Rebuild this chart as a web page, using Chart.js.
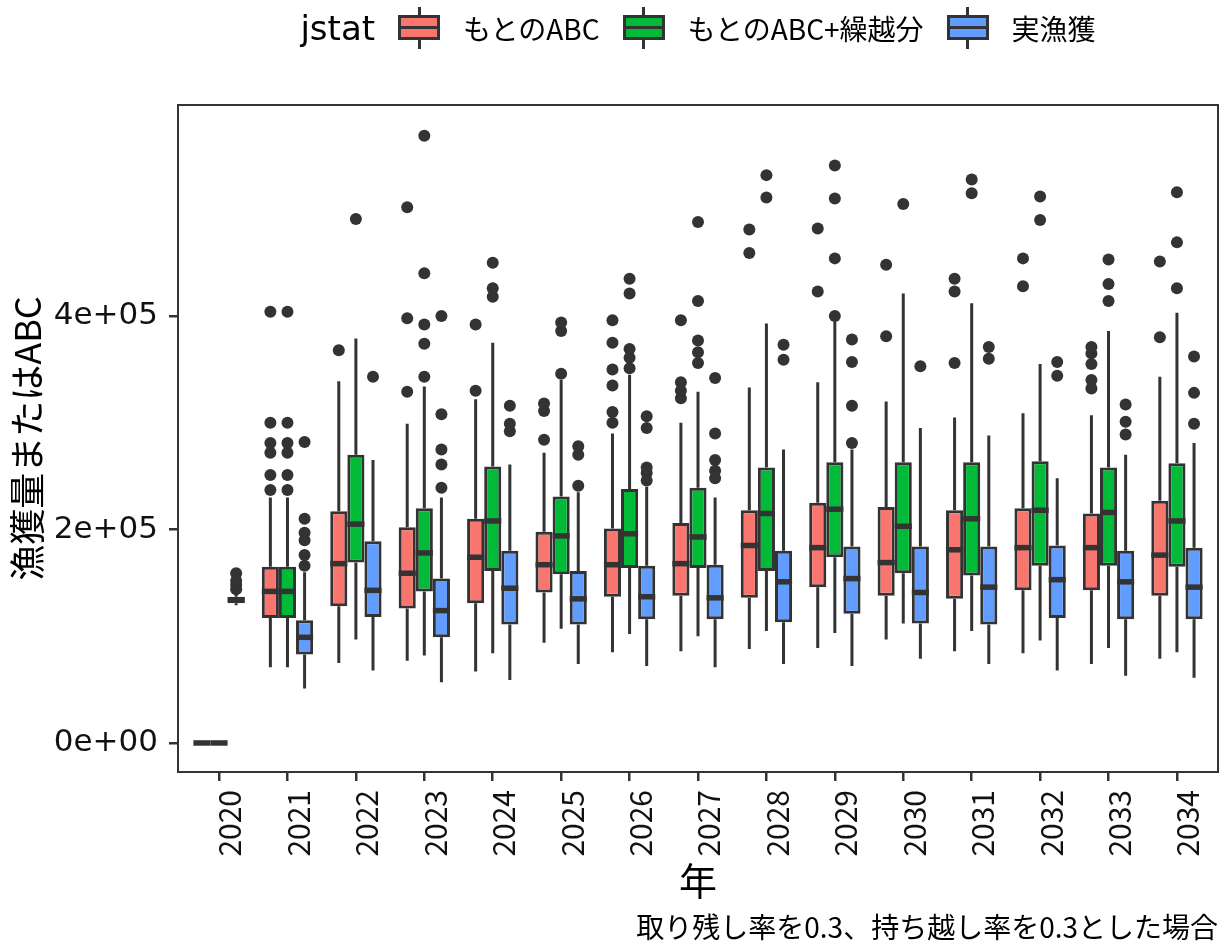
<!DOCTYPE html>
<html>
<head>
<meta charset="utf-8">
<script src="https://cdn.jsdelivr.net/npm/chart.js@4.4.1/dist/chart.umd.min.js"></script>
<style>
  html, body { margin: 0; padding: 0; background: #fff; }
  #wrap { position: relative; width: 1225px; height: 945px; }
  #legend { position: absolute; top: 0; left: 178px; width: 1040px; height: 56px;
    display: flex; align-items: center; justify-content: center;
    font-family: 'Noto Sans CJK JP'; font-size: 28px; color: #000; }
  #legend .ttl { font-family: 'DejaVu Sans'; font-size: 34px; margin-right: 23px; }
  #legend .key { position: relative; width: 42px; height: 42px; margin-right: 23px; }
  #legend .wh { position: absolute; left: 19.5px; top: 0; width: 3px; height: 42px; background: #333; }
  #legend .bx { position: absolute; left: 0; top: 8px; width: 42px; height: 25px; box-sizing: border-box; border: 3px solid #333; }
  #legend .md { position: absolute; left: 0; top: 19px; width: 42px; height: 3px; background: #333; }
  #legend .lab { margin-right: 23px; }
  #legend .lab:last-child { margin-right: 0; }
  #caption { position: absolute; right: 7px; top: 906px; font-family: 'Noto Sans CJK JP';
    font-size: 28px; line-height: 40px; color: #000; white-space: nowrap; }
</style>
</head>
<body>
<div id="wrap">
  <canvas id="chart" width="1225" height="945"></canvas>
  <div id="legend"></div>
  <div id="caption">取り残し率を0.3、持ち越し率を0.3とした場合</div>
</div>
<script>
const years = [2020, 2021, 2022, 2023, 2024, 2025, 2026, 2027, 2028, 2029, 2030, 2031, 2032, 2033, 2034];
const seriesNames = ['もとのABC', 'もとのABC+繰越分', '実漁獲'];
const seriesColors = ['#F8766D', '#00BA38', '#619CFF'];
const yTicks = [0, 200000, 400000];
const yTickLabels = ['0e+00', '2e+05', '4e+05'];

// もとのABC
const abcLo  = [0, 71000, 75000, 77000, 67000, 94000, 85000, 86000, 88000, 89000, 97000, 86000, 84000, 74000, 79000];
const abcQ1  = [0, 117000, 128000, 126000, 131000, 141000, 137000, 138000, 136000, 146000, 138000, 135000, 143000, 143000, 138000];
const abcMed = [0, 142000, 168000, 159000, 174000, 167000, 167000, 168000, 185000, 183000, 169000, 181000, 183000, 183000, 176000];
const abcQ3  = [0, 165000, 217000, 202000, 210000, 198000, 201000, 206000, 218000, 225000, 221000, 218000, 220000, 215000, 227000];
const abcHi  = [0, 230000, 339000, 299000, 322000, 272000, 290000, 300000, 333000, 338000, 320000, 305000, 309000, 307000, 343000];
const abcOut = [[], [237000, 251000, 272000, 281000, 300000, 404000], [368000], [329000, 398000, 502000],
  [330000, 392000], [284000, 311000, 318000], [300000, 310000, 335000, 350000, 375000, 396000],
  [323000, 330000, 338000, 396000], [459000, 481000], [423000, 482000], [381000, 448000],
  [356000, 423000, 435000], [428000, 454000], [332000, 340000, 355000, 365000, 371000], [380000, 451000]];

// もとのABC+繰越分
const carryLo  = [0, 71000, 97000, 82000, 84000, 107000, 102000, 100000, 105000, 103000, 112000, 105000, 96000, 89000, 85000];
const carryQ1  = [0, 117000, 169000, 142000, 161000, 158000, 164000, 164000, 161000, 174000, 159000, 157000, 166000, 166000, 165000];
const carryMed = [0, 142000, 205000, 178000, 208000, 194000, 196000, 193000, 215000, 219000, 203000, 210000, 218000, 216000, 208000];
const carryQ3  = [0, 165000, 270000, 220000, 259000, 231000, 238000, 239000, 258000, 263000, 263000, 263000, 264000, 258000, 262000];
const carryHi  = [0, 230000, 379000, 334000, 375000, 340000, 345000, 329000, 393000, 395000, 421000, 412000, 355000, 386000, 403000];
const carryOut = [[], [237000, 251000, 272000, 281000, 300000, 404000], [491000], [343000, 374000, 392000, 440000, 569000],
  [418000, 426000, 450000], [346000, 386000, 394000], [351000, 361000, 369000, 421000, 435000],
  [356000, 366000, 377000, 414000, 488000], [511000, 532000], [400000, 454000, 510000, 541000], [505000],
  [515000, 528000], [490000, 512000], [414000, 430000, 453000], [426000, 469000, 516000]];

// 実漁獲
const catchLo  = [129000, 51000, 68000, 57000, 59000, 74000, 72000, 71000, 74000, 72000, 79000, 74000, 68000, 63000, 61000];
const catchQ1  = [131000, 83000, 118000, 99000, 111000, 111000, 116000, 116000, 113000, 121000, 112000, 111000, 117000, 116000, 116000];
const catchMed = [134000, 99000, 143000, 124000, 145000, 135000, 137000, 136000, 151000, 154000, 141000, 146000, 153000, 151000, 146000];
const catchQ3  = [137000, 115000, 189000, 154000, 180000, 161000, 166000, 167000, 180000, 184000, 184000, 184000, 185000, 180000, 183000];
const catchHi  = [140000, 160000, 265000, 230000, 261000, 235000, 240000, 230000, 275000, 275000, 295000, 288000, 248000, 270000, 281000];
const catchOut = [[144000, 148000, 152000, 159000], [166000, 176000, 190000, 197000, 210000, 282000], [343000],
  [239000, 261000, 275000, 308000, 400000], [292000, 299000, 316000], [241000, 270000, 278000],
  [246000, 253000, 258000, 295000, 306000], [248000, 255000, 265000, 290000, 342000], [359000, 373000],
  [281000, 316000, 357000, 378000], [353000], [360000, 371000], [344000, 357000], [289000, 301000, 317000],
  [299000, 328000, 362000]];

const LINE = '#333333';

function boxSet(idx, lo, q1, med, q3, hi, out) {
  return {
    label: seriesNames[idx],
    data: years.map((yr, i) => ({ x: yr, y: [q1[i], q3[i]] })),
    backgroundColor: seriesColors[idx],
    borderColor: LINE,
    borderWidth: 3,
    borderSkipped: false,
    lo: lo, med: med, hi: hi, q1: q1, q3: q3, out: out
  };
}

// whiskers, medians and outlier dots on top of the floating bars
const boxParts = {
  id: 'boxParts',
  afterDatasetsDraw(chart) {
    const ctx = chart.ctx;
    const ys = chart.scales.y;
    chart.data.datasets.forEach((ds, di) => {
      const meta = chart.getDatasetMeta(di);
      meta.data.forEach((bar, i) => {
        const x = bar.x, half = bar.width / 2;
        ctx.save();
        ctx.strokeStyle = LINE;
        ctx.lineWidth = 3;
        ctx.beginPath();
        ctx.moveTo(x, ys.getPixelForValue(ds.q3[i]));
        ctx.lineTo(x, ys.getPixelForValue(ds.hi[i]));
        ctx.moveTo(x, ys.getPixelForValue(ds.q1[i]));
        ctx.lineTo(x, ys.getPixelForValue(ds.lo[i]));
        ctx.stroke();
        ctx.lineWidth = 5.5;
        ctx.beginPath();
        const my = ys.getPixelForValue(ds.med[i]);
        ctx.moveTo(x - half, my);
        ctx.lineTo(x + half, my);
        ctx.stroke();
        ctx.fillStyle = LINE;
        ds.out[i].forEach(v => {
          ctx.beginPath();
          ctx.arc(x, ys.getPixelForValue(v), 6, 0, Math.PI * 2);
          ctx.fill();
        });
        ctx.restore();
      });
    });
  },
  afterDraw(chart) {
    const a = chart.chartArea, ctx = chart.ctx;
    ctx.save();
    ctx.strokeStyle = LINE;
    ctx.lineWidth = 2;
    ctx.strokeRect(a.left, a.top, a.right - a.left, a.bottom - a.top);
    ctx.restore();
  }
};

new Chart(document.getElementById('chart'), {
  type: 'bar',
  data: {
    datasets: [
      boxSet(0, abcLo, abcQ1, abcMed, abcQ3, abcHi, abcOut),
      boxSet(1, carryLo, carryQ1, carryMed, carryQ3, carryHi, carryOut),
      boxSet(2, catchLo, catchQ1, catchMed, catchQ3, catchHi, catchOut)
    ]
  },
  options: {
    responsive: false,
    animation: false,
    categoryPercentage: 0.75,
    barPercentage: 1,
    layout: { padding: { top: 105, right: 7, bottom: 0, left: 0 } },
    plugins: { legend: { display: false }, tooltip: { enabled: false } },
    scales: {
      x: {
        type: 'linear', min: 2019.4, max: 2034.6, offset: false,
        afterBuildTicks: s => { s.ticks = years.map(v => ({ value: v })); },
        afterFit: s => { s.height = 173; s.paddingLeft = 0; s.paddingRight = 0; },
        grid: { drawOnChartArea: false, drawTicks: true, tickLength: 9, color: LINE, lineWidth: 2.5, offset: false },
        border: { display: false },
        ticks: { minRotation: 90, maxRotation: 90, autoSkip: false, padding: 9, labelOffset: 11, color: '#111',
          font: { family: 'Noto Sans CJK JP', size: 30 }, callback: v => String(v) },
        title: { display: true, text: '年', color: '#000',
          font: { family: 'Noto Sans CJK JP', size: 38 }, padding: { top: 0, bottom: 42 } }
      },
      y: {
        min: -27200, max: 597700,
        afterBuildTicks: s => { s.ticks = yTicks.map(v => ({ value: v })); },
        afterFit: s => { s.width = 178; s.paddingTop = 0; s.paddingBottom = 0; },
        grid: { drawOnChartArea: false, drawTicks: true, tickLength: 9, color: LINE, lineWidth: 2.5 },
        border: { display: false },
        ticks: { padding: 11, color: '#111', font: { family: 'DejaVu Sans', size: 31 },
          callback: v => yTickLabels[yTicks.indexOf(v)] },
        title: { display: true, text: '漁獲量またはABC', color: '#000',
          font: { family: 'Noto Sans CJK JP', size: 36 }, padding: { top: 6, bottom: 0 } }
      }
    }
  },
  plugins: [boxParts]
});

// legend row: title, then a boxplot key and label per series
const legend = document.getElementById('legend');
let html = '<span class="ttl">jstat</span>';
seriesNames.forEach((name, i) => {
  html += '<div class="key"><div class="wh"></div><div class="bx" style="background:' + seriesColors[i] +
    '"></div><div class="md"></div></div><span class="lab">' + name + '</span>';
});
legend.innerHTML = html;
</script>
</body>
</html>
